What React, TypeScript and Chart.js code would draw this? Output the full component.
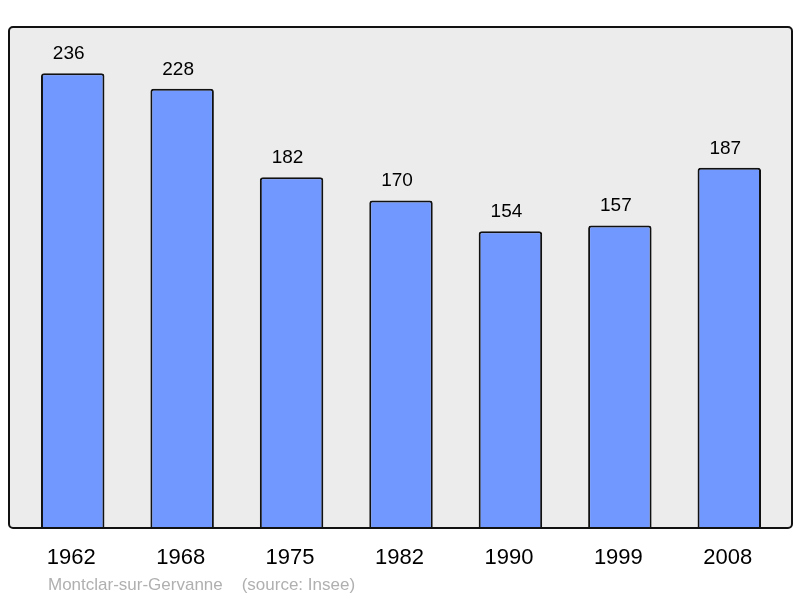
import React, { useEffect, useRef } from "react";
import { Chart, registerables } from "chart.js";

Chart.register(...registerables);

const years = ["1962", "1968", "1975", "1982", "1990", "1999", "2008"];
const population = [236, 228, 182, 170, 154, 157, 187];
const footer = "Montclar-sur-Gervanne    (source: Insee)";

const FONT = "'Liberation Sans', Arial, sans-serif";

const framePlugin = {
  id: "frame",
  beforeDraw(chart: any) {
    const { ctx, chartArea } = chart;
    const l = chartArea.left - 9;
    const r = chartArea.right + 8;
    const t = chartArea.top;
    const b = chartArea.bottom;
    ctx.save();
    ctx.beginPath();
    (ctx as any).roundRect(l, t, r - l, b - t, 4);
    ctx.fillStyle = "#ececec";
    ctx.fill();
    ctx.restore();
  },
  afterDatasetsDraw(chart: any) {
    const { ctx, chartArea } = chart;
    const l = chartArea.left - 9;
    const r = chartArea.right + 8;
    const t = chartArea.top;
    const b = chartArea.bottom;
    ctx.save();
    ctx.beginPath();
    (ctx as any).roundRect(l, t, r - l, b - t, 4);
    ctx.strokeStyle = "#111";
    ctx.lineWidth = 2;
    ctx.stroke();

    const meta = chart.getDatasetMeta(0);
    const xs = chart.scales.x;
    ctx.fillStyle = "#000";
    ctx.textAlign = "center";
    ctx.textBaseline = "alphabetic";
    ctx.font = `19px ${FONT}`;
    meta.data.forEach((bar: any, i: number) => {
      ctx.fillText(String(population[i]), bar.x - 4, bar.y - 14);
    });
    ctx.font = `22px ${FONT}`;
    years.forEach((y, i) => {
      ctx.fillText(y, xs.getPixelForValue(i) - 1.5, b + 36);
    });
    ctx.font = `17px ${FONT}`;
    ctx.fillStyle = "#b0b0b0";
    ctx.textAlign = "left";
    ctx.fillText(footer, 48, b + 62);
    ctx.restore();
  },
};

export default function App() {
  const ref = useRef<HTMLCanvasElement>(null);
  useEffect(() => {
    document.body.style.margin = "0";
    const chart = new Chart(ref.current!, {
      type: "bar",
      data: {
        labels: years,
        datasets: [
          {
            data: population,
            backgroundColor: "#7098ff",
            borderColor: "#111",
            borderWidth: 2,
            borderRadius: 3,
            borderSkipped: "bottom",
            barPercentage: 0.58,
            categoryPercentage: 1,
          },
        ],
      },
      options: {
        responsive: false,
        animation: false,
        layout: { padding: { left: 18, right: 16, top: 27, bottom: 70 } },
        plugins: { legend: { display: false }, tooltip: { enabled: false } },
        scales: {
          x: { display: false },
          y: { display: false, min: 0, max: 260 },
        },
      },
      plugins: [framePlugin],
    });
    return () => chart.destroy();
  }, []);
  return (
    <div style={{ width: 800, height: 598, background: "#fff" }}>
      <canvas ref={ref} width={800} height={598} style={{ display: "block" }} />
    </div>
  );
}
